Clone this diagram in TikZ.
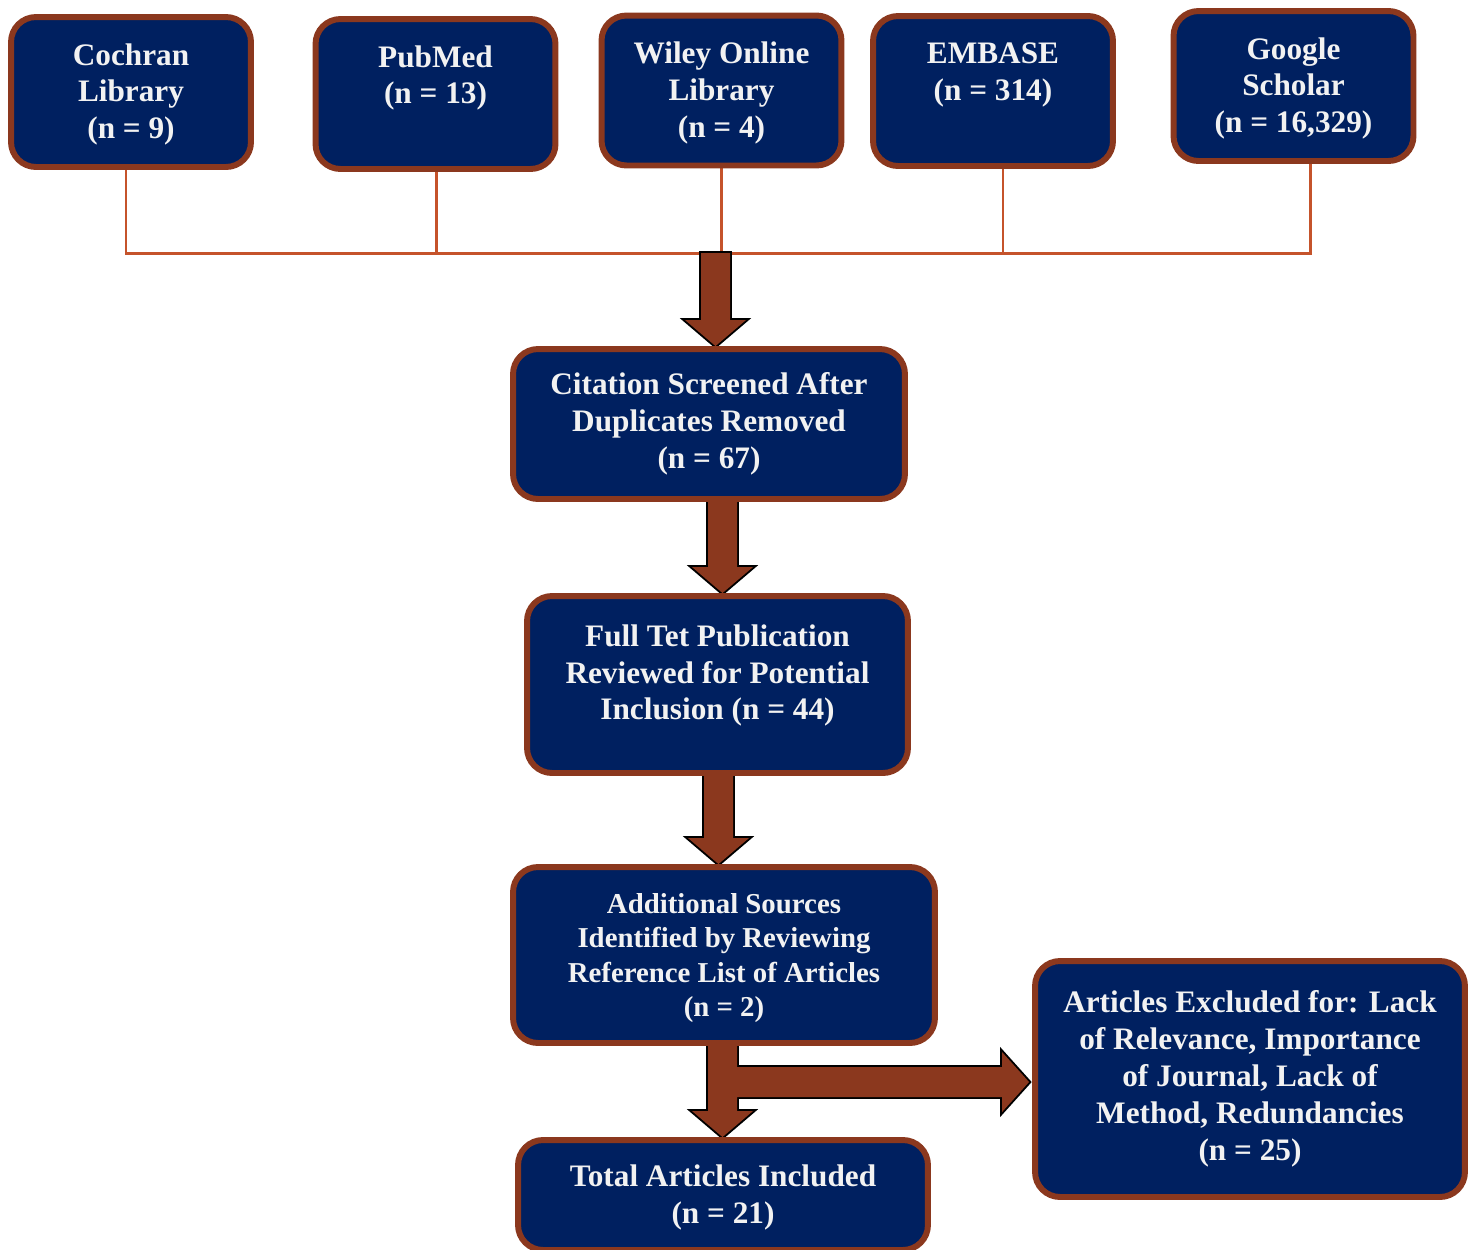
\documentclass[tikz,border=0pt]{standalone}
\usepackage{fontspec}
\setmainfont{Liberation Serif}
\usetikzlibrary{calc,backgrounds}
\definecolor{PrismaNavy}{HTML}{002060}
\definecolor{PrismaBrown}{HTML}{8B381E}
\definecolor{PrismaRust}{HTML}{C5532B}
\definecolor{PrismaText}{HTML}{F2F2F2}
\tikzset{
  box/.style={draw=PrismaBrown, line width=3.4pt, rounded corners=0.5cm, fill=PrismaNavy, text=PrismaText, align=center, inner sep=2pt, font=\bfseries\fontsize{17.8}{21}\selectfont},
  srcbox/.style={box, minimum width=4.8cm, minimum height=3.0cm, text depth=1pt},
  feed/.style={draw=PrismaRust, line width=1.7pt},
  blockarrow/.style={preaction={draw=black, line width=2.2pt}, fill=PrismaBrown},
  fatdown/.style={to path={let \p1=(\tikztostart), \p2=(\tikztotarget) in
    (\x1-0.29cm,\y1) -- (\x1-0.29cm,\y2+0.52cm) -- (\x1-0.61cm,\y2+0.52cm) -- (\x1,\y2)
    -- (\x1+0.61cm,\y2+0.52cm) -- (\x1+0.29cm,\y2+0.52cm) -- (\x1+0.29cm,\y1) -- cycle}},
  fatright/.style={to path={let \p1=(\tikztostart), \p2=(\tikztotarget) in
    (\x1,\y1-0.3cm) -- (\x2-0.54cm,\y1-0.3cm) -- (\x2-0.54cm,\y1-0.6cm) -- (\x2,\y1)
    -- (\x2-0.54cm,\y1+0.6cm) -- (\x2-0.54cm,\y1+0.3cm) -- (\x1,\y1+0.3cm) -- cycle}}
}
\begin{document}
\begin{tikzpicture}[x=0.02cm, y=-0.02cm]
\useasboundingbox (0,0) rectangle (1475,1249);
\clip (0,0) rectangle (1475,1249);
% databases
\node[srcbox] (cochran) at (131,92) {Cochran\\Library\\(n = 9)};
\node[srcbox] (pubmed) at (435.5,94) {PubMed\\(n = 13)\\\phantom{(}};
\node[srcbox] (wiley) at (721.5,90.5) {Wiley Online\\Library\\(n = 4)};
\node[srcbox] (embase) at (993,91) {EMBASE\\(n = 314)\\\phantom{(}};
\node[srcbox] (google) at (1293.5,86) {Google\\Scholar\\(n = 16,329)};
% screening steps
\node[box, minimum width=7.84cm, minimum height=3.0cm] (cite) at (709,424) {Citation Screened After\\Duplicates Removed\\(n = 67)};
\node[box, minimum width=7.62cm, minimum height=3.54cm, text depth=14pt] (fulltext) at (717.5,684.5) {Full Tet Publication\\Reviewed for Potential\\Inclusion (n = 44)};
\node[box, minimum width=8.44cm, minimum height=3.52cm, text depth=-1.5pt, font=\bfseries\fontsize{16.4}{19.4}\selectfont] (addsrc) at (724,955) {Additional Sources\\Identified by Reviewing\\Reference List of Articles\\(n = 2)};
\node[box, minimum width=8.2cm, minimum height=2.2cm, text depth=0.5pt] (total) at (723,1195) {Total Articles Included\\(n = 21)};
\node[box, minimum width=8.6cm, minimum height=4.72cm] (excl) at (1250,1079) {Articles Excluded for: Lack\\of Relevance, Importance\\of Journal, Lack of\\Method, Redundancies\\(n = 25)};
\coordinate (bus) at (715.5,253);
\coordinate (split) at (722.5,1082);
\begin{scope}[on background layer]
\draw[feed] ([xshift=-0.1cm]cochran.south) |- (bus);
\draw[feed] ([xshift=0.02cm]pubmed.south) |- (bus);
\draw[feed] (wiley.south) |- (bus);
\draw[feed] ([xshift=0.2cm]embase.south) |- (bus);
\draw[feed] ([xshift=0.33cm]google.south) |- (bus);
\path[blockarrow] (bus) to[fatdown] (cite.north);
\path[blockarrow] ([xshift=0.27cm]cite.south) to[fatdown] (fulltext.north);
\path[blockarrow] ([xshift=0.02cm]fulltext.south) to[fatdown] (addsrc.north);
\path[blockarrow] ([xshift=-0.03cm]addsrc.south) to[fatdown] (total.north)
  (split) to[fatright] ([xshift=-0.06cm]excl.west);
\end{scope}
\end{tikzpicture}
\end{document}
